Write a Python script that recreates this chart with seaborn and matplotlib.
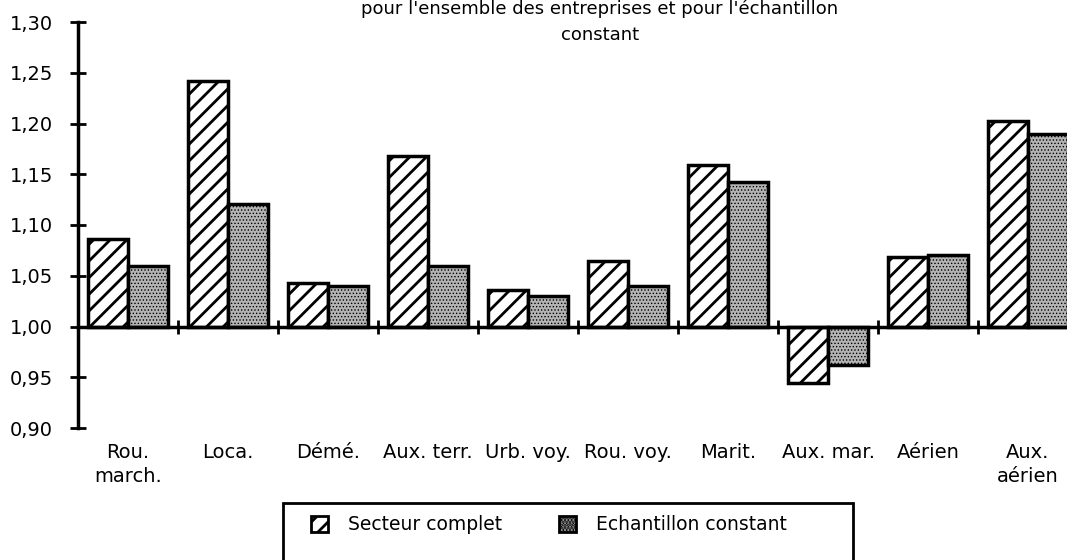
import numpy as np
import pandas as pd
import matplotlib
matplotlib.use("Agg")
import matplotlib.pyplot as plt
import seaborn as sns
from matplotlib.patches import Rectangle
from matplotlib.ticker import FuncFormatter

# Data (ratio, base 1.00)
categories = ["Rou.\nmarch.", "Loca.", "Démé.", "Aux. terr.", "Urb. voy.",
              "Rou. voy.", "Marit.", "Aux. mar.", "Aérien", "Aux.\naérien"]
secteur_complet = [1.086, 1.242, 1.043, 1.168, 1.036, 1.065, 1.159, 0.944, 1.068, 1.202]
echantillon_constant = [1.060, 1.121, 1.040, 1.060, 1.030, 1.040, 1.142, 0.962, 1.070, 1.190]
series_names = ["Secteur complet", "Echantillon constant"]
y_ticks = [0.90, 0.95, 1.00, 1.05, 1.10, 1.15, 1.20, 1.25, 1.30]
base = 1.0

sns.set_style("white", {"axes.edgecolor": "black", "text.color": "black",
                        "xtick.color": "black", "ytick.color": "black"})
plt.rcParams['font.family'] = ['DejaVu Sans']
plt.rcParams['hatch.linewidth'] = 2.0

grey = "#b4b4b4"

df = pd.DataFrame({
    "cat": categories * 2,
    "serie": [series_names[0]] * len(categories) + [series_names[1]] * len(categories),
    "val": secteur_complet + echantillon_constant,
})
df["delta"] = df["val"] - base

fig = plt.figure(figsize=(10.67, 5.6), dpi=100)
ax = fig.add_axes([78 / 1067, 1 - 428 / 560, 1000 / 1067, 406 / 560])

sns.barplot(data=df, x="cat", y="delta", hue="serie", order=categories,
            hue_order=series_names, width=0.8, ax=ax, legend=False,
            palette=["white", grey], edgecolor="black", linewidth=2.5,
            saturation=1)

n = len(categories)
for i, bar in enumerate(ax.patches[:2 * n]):
    if i < n:
        bar.set_hatch("//")
        bar.set_facecolor("white")
    else:
        bar.set_hatch(".....")
        bar.set_hatch_linewidth(0.6)
        bar.set_facecolor(grey)

ax.set_ylim(y_ticks[0] - base, y_ticks[-1] - base)
ax.set_xlim(-0.5, n - 0.5)
ax.set_yticks([t - base for t in y_ticks])
ax.yaxis.set_major_formatter(FuncFormatter(lambda v, p: f"{v + base:.2f}".replace(".", ",")))
ax.tick_params(axis="y", left=True, direction="inout", length=12, width=2, labelsize=14,
               pad=12, colors="black")

# category axis drawn on the 1,00 line, boundaries as ticks
ax.spines["bottom"].set_position(("data", 0))
ax.spines["bottom"].set_linewidth(2.5)
ax.spines["left"].set_linewidth(2.5)
ax.spines["top"].set_visible(False)
ax.spines["right"].set_visible(False)
ax.set_xticks(np.arange(n - 1) + 0.5)
ax.set_xticklabels([])
ax.tick_params(axis="x", bottom=True, direction="inout", length=10, width=2, colors="black")
ax.set_xlabel("")
ax.set_ylabel("")

for i, lab in enumerate(categories):
    ax.text(i, -0.115, lab, ha="center", va="top", fontsize=14, linespacing=1.35, color="black")

fig.text(600 / 1067, 1 - 9 / 560, "pour l'ensemble des entreprises et pour l'échantillon",
         ha="center", va="center", fontsize=13, color="black")
fig.text(600 / 1067, 1 - 35 / 560, "constant", ha="center", va="center", fontsize=13,
         color="black")

# legend box
fig.patches.append(Rectangle((283 / 1067, -0.05), (853 - 283) / 1067, 0.05 + 57 / 560,
                             transform=fig.transFigure, fill=False, edgecolor="black",
                             linewidth=2))
stip = Rectangle((0, 0), 1, 1, facecolor=grey, edgecolor="black", hatch=".....", linewidth=2)
stip.set_hatch_linewidth(0.6)
handles = [Rectangle((0, 0), 1, 1, facecolor="white", edgecolor="black", hatch="//", linewidth=2),
           stip]
fig.legend(handles, series_names, loc="center left", bbox_to_anchor=(294 / 1067, 1 - 525 / 560),
           ncol=2, frameon=False, fontsize=13.5, handlelength=0.9, handleheight=0.9,
           columnspacing=3.0, handletextpad=1.1, labelcolor="black")

fig.savefig("out.png", dpi=100)
